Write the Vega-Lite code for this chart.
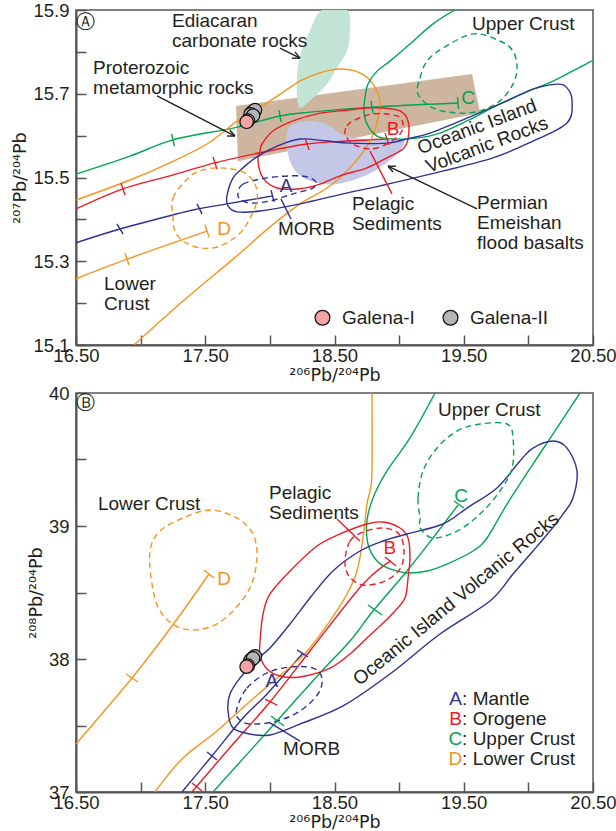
{
"$schema": "https://vega.github.io/schema/vega-lite/v6.json",
"background": "white",
"padding": {"left": 11, "top": 0, "right": 0, "bottom": 0},
"bounds": "flush",
"spacing": 48,
"config": {
 "font": "Liberation Sans",
 "view": {"stroke": "#555", "strokeWidth": 1.5},
 "axis": {"domainColor": "#555", "domainWidth": 2, "tickColor": "#555", "tickWidth": 1.5, "tickSize": -10, "labelFontSize": 18.5, "labelColor": "#231f20", "titleFontSize": 17.5, "titleFontWeight": "normal", "titleColor": "#231f20", "grid": false, "labelOverlap": false, "labelFlush": false, "labelFont": "Liberation Sans", "titleFont": "DejaVu Sans"},
 "axisX": {"labelPadding": 11, "titlePadding": 2},
 "axisY": {"labelPadding": 17, "titlePadding": 3},
 "text": {"font": "Liberation Sans", "fontSize": 19, "color": "#231f20"}
},
"resolve": {"scale": {"fill": "independent", "x": "independent", "y": "independent"}, "legend": {"fill": "independent"}},
"datasets": {
 "top_quad": [
  {"id":"proterozoic","x":17.738,"y":15.671},{"id":"proterozoic","x":19.564,"y":15.747},{"id":"proterozoic","x":19.626,"y":15.654},{"id":"proterozoic","x":17.753,"y":15.539}
 ],
 "top_blob": [
  {"id":"ediacaran","x":18.403,"y":15.9},{"id":"ediacaran","x":18.597,"y":15.9},{"id":"ediacaran","x":18.62,"y":15.85},{"id":"ediacaran","x":18.597,"y":15.802},{"id":"ediacaran","x":18.519,"y":15.762},{"id":"ediacaran","x":18.442,"y":15.723},{"id":"ediacaran","x":18.31,"y":15.683},{"id":"ediacaran","x":18.233,"y":15.666},{"id":"ediacaran","x":18.21,"y":15.695},{"id":"ediacaran","x":18.21,"y":15.742},{"id":"ediacaran","x":18.233,"y":15.79},{"id":"ediacaran","x":18.31,"y":15.85},
  {"id":"permian","x":18.14,"y":15.616},{"id":"permian","x":18.218,"y":15.63},{"id":"permian","x":18.349,"y":15.635},{"id":"permian","x":18.465,"y":15.623},{"id":"permian","x":18.581,"y":15.599},{"id":"permian","x":18.736,"y":15.592},{"id":"permian","x":18.929,"y":15.592},{"id":"permian","x":19.038,"y":15.59},{"id":"permian","x":19.007,"y":15.563},{"id":"permian","x":18.891,"y":15.532},{"id":"permian","x":18.736,"y":15.504},{"id":"permian","x":18.504,"y":15.484},{"id":"permian","x":18.31,"y":15.492},{"id":"permian","x":18.187,"y":15.52},{"id":"permian","x":18.133,"y":15.568}
 ],
 "top_open": [
  {"id":"g_upper","grp":"upper","x":16.5,"y":15.508},{"id":"g_upper","grp":"upper","x":16.918,"y":15.551},{"id":"g_upper","grp":"upper","x":17.25,"y":15.59},{"id":"g_upper","grp":"upper","x":17.715,"y":15.618},{"id":"g_upper","grp":"upper","x":18.078,"y":15.647},{"id":"g_upper","grp":"upper","x":18.31,"y":15.656},{"id":"g_upper","grp":"upper","x":18.79,"y":15.668},{"id":"g_upper","grp":"upper","x":19.456,"y":15.678},
  {"id":"g_orogene","grp":"orogene","x":16.5,"y":15.425},{"id":"g_orogene","grp":"orogene","x":16.864,"y":15.473},{"id":"g_orogene","grp":"orogene","x":17.227,"y":15.504},{"id":"g_orogene","grp":"orogene","x":17.575,"y":15.535},{"id":"g_orogene","grp":"orogene","x":17.924,"y":15.559},{"id":"g_orogene","grp":"orogene","x":18.287,"y":15.58},{"id":"g_orogene","grp":"orogene","x":18.597,"y":15.587},{"id":"g_orogene","grp":"orogene","x":18.906,"y":15.592},
  {"id":"g_mantle","grp":"mantle","x":16.5,"y":15.344},{"id":"g_mantle","grp":"mantle","x":16.84,"y":15.377},{"id":"g_mantle","grp":"mantle","x":17.305,"y":15.415},{"id":"g_mantle","grp":"mantle","x":17.444,"y":15.425},{"id":"g_mantle","grp":"mantle","x":17.668,"y":15.437},{"id":"g_mantle","grp":"mantle","x":18.024,"y":15.456},
  {"id":"g_lower","grp":"lower","x":16.5,"y":15.258},{"id":"g_lower","grp":"lower","x":16.895,"y":15.305},{"id":"g_lower","grp":"lower","x":17.514,"y":15.372},
  {"id":"f_lower","grp":"lower","x":16.5,"y":15.446},{"id":"f_lower","grp":"lower","x":16.918,"y":15.494},{"id":"f_lower","grp":"lower","x":17.204,"y":15.532},{"id":"f_lower","grp":"lower","x":17.514,"y":15.58},{"id":"f_lower","grp":"lower","x":17.769,"y":15.64},{"id":"f_lower","grp":"lower","x":17.978,"y":15.678},{"id":"f_lower","grp":"lower","x":18.233,"y":15.73},{"id":"f_lower","grp":"lower","x":18.388,"y":15.75},{"id":"f_lower","grp":"lower","x":18.543,"y":15.759},{"id":"f_lower","grp":"lower","x":18.697,"y":15.75},{"id":"f_lower","grp":"lower","x":18.798,"y":15.723},{"id":"f_lower","grp":"lower","x":18.852,"y":15.683},{"id":"f_lower","grp":"lower","x":18.837,"y":15.642},{"id":"f_lower","grp":"lower","x":18.775,"y":15.587},{"id":"f_lower","grp":"lower","x":18.62,"y":15.523},{"id":"f_lower","grp":"lower","x":18.442,"y":15.475},{"id":"f_lower","grp":"lower","x":18.233,"y":15.437},{"id":"f_lower","grp":"lower","x":18.001,"y":15.382},{"id":"f_lower","grp":"lower","x":17.715,"y":15.305},{"id":"f_lower","grp":"lower","x":17.328,"y":15.205},{"id":"f_lower","grp":"lower","x":16.949,"y":15.1},
  {"id":"f_upper","grp":"upper","x":19.432,"y":15.9},{"id":"f_upper","grp":"upper","x":19.262,"y":15.867},{"id":"f_upper","grp":"upper","x":19.084,"y":15.819},{"id":"f_upper","grp":"upper","x":18.929,"y":15.778},{"id":"f_upper","grp":"upper","x":18.829,"y":15.754},{"id":"f_upper","grp":"upper","x":18.759,"y":15.723},{"id":"f_upper","grp":"upper","x":18.736,"y":15.69},{"id":"f_upper","grp":"upper","x":18.728,"y":15.659},{"id":"f_upper","grp":"upper","x":18.751,"y":15.628},{"id":"f_upper","grp":"upper","x":18.829,"y":15.599},{"id":"f_upper","grp":"upper","x":18.953,"y":15.592},{"id":"f_upper","grp":"upper","x":19.138,"y":15.594},{"id":"f_upper","grp":"upper","x":19.316,"y":15.606},{"id":"f_upper","grp":"upper","x":19.525,"y":15.635},{"id":"f_upper","grp":"upper","x":19.78,"y":15.676},{"id":"f_upper","grp":"upper","x":20.036,"y":15.711},{"id":"f_upper","grp":"upper","x":20.191,"y":15.73},{"id":"f_upper","grp":"upper","x":20.477,"y":15.776},{"id":"f_upper","grp":"upper","x":20.5,"y":15.779}
 ],
 "top_loop": [
  {"id":"pelagic","grp":"orogene","x":17.924,"y":15.563},{"id":"pelagic","grp":"orogene","x":17.908,"y":15.539},{"id":"pelagic","grp":"orogene","x":17.947,"y":15.499},{"id":"pelagic","grp":"orogene","x":18.055,"y":15.475},{"id":"pelagic","grp":"orogene","x":18.233,"y":15.473},{"id":"pelagic","grp":"orogene","x":18.388,"y":15.484},{"id":"pelagic","grp":"orogene","x":18.543,"y":15.504},{"id":"pelagic","grp":"orogene","x":18.751,"y":15.523},{"id":"pelagic","grp":"orogene","x":18.906,"y":15.547},{"id":"pelagic","grp":"orogene","x":19.03,"y":15.568},{"id":"pelagic","grp":"orogene","x":19.069,"y":15.592},{"id":"pelagic","grp":"orogene","x":19.069,"y":15.635},{"id":"pelagic","grp":"orogene","x":19.007,"y":15.659},{"id":"pelagic","grp":"orogene","x":18.875,"y":15.666},{"id":"pelagic","grp":"orogene","x":18.751,"y":15.666},{"id":"pelagic","grp":"orogene","x":18.543,"y":15.659},{"id":"pelagic","grp":"orogene","x":18.365,"y":15.652},{"id":"pelagic","grp":"orogene","x":18.179,"y":15.635},{"id":"pelagic","grp":"orogene","x":18.024,"y":15.611},{"id":"pelagic","grp":"orogene","x":17.939,"y":15.58},
  {"id":"oib","grp":"mantle","x":17.668,"y":15.456},{"id":"oib","grp":"mantle","x":17.715,"y":15.499},{"id":"oib","grp":"mantle","x":17.792,"y":15.523},{"id":"oib","grp":"mantle","x":17.908,"y":15.551},{"id":"oib","grp":"mantle","x":18.055,"y":15.575},{"id":"oib","grp":"mantle","x":18.233,"y":15.592},{"id":"oib","grp":"mantle","x":18.442,"y":15.587},{"id":"oib","grp":"mantle","x":18.62,"y":15.582},{"id":"oib","grp":"mantle","x":18.906,"y":15.582},{"id":"oib","grp":"mantle","x":19.084,"y":15.594},{"id":"oib","grp":"mantle","x":19.239,"y":15.606},{"id":"oib","grp":"mantle","x":19.525,"y":15.642},{"id":"oib","grp":"mantle","x":19.835,"y":15.683},{"id":"oib","grp":"mantle","x":20.036,"y":15.711},{"id":"oib","grp":"mantle","x":20.222,"y":15.723},{"id":"oib","grp":"mantle","x":20.299,"y":15.714},{"id":"oib","grp":"mantle","x":20.338,"y":15.683},{"id":"oib","grp":"mantle","x":20.299,"y":15.63},{"id":"oib","grp":"mantle","x":20.036,"y":15.587},{"id":"oib","grp":"mantle","x":19.726,"y":15.547},{"id":"oib","grp":"mantle","x":19.239,"y":15.508},{"id":"oib","grp":"mantle","x":18.852,"y":15.48},{"id":"oib","grp":"mantle","x":18.566,"y":15.461},{"id":"oib","grp":"mantle","x":18.233,"y":15.437},{"id":"oib","grp":"mantle","x":17.924,"y":15.42},{"id":"oib","grp":"mantle","x":17.746,"y":15.418},{"id":"oib","grp":"mantle","x":17.676,"y":15.432}
 ],
 "top_dash": [
  {"id":"A","grp":"mantle","x":17.753,"y":15.461},{"id":"A","grp":"mantle","x":17.792,"y":15.484},{"id":"A","grp":"mantle","x":17.978,"y":15.499},{"id":"A","grp":"mantle","x":18.233,"y":15.504},{"id":"A","grp":"mantle","x":18.349,"y":15.492},{"id":"A","grp":"mantle","x":18.334,"y":15.475},{"id":"A","grp":"mantle","x":18.179,"y":15.461},{"id":"A","grp":"mantle","x":18.001,"y":15.444},{"id":"A","grp":"mantle","x":17.846,"y":15.439},{"id":"A","grp":"mantle","x":17.769,"y":15.449},
  {"id":"B","grp":"orogene","x":18.581,"y":15.604},{"id":"B","grp":"orogene","x":18.597,"y":15.623},{"id":"B","grp":"orogene","x":18.643,"y":15.635},{"id":"B","grp":"orogene","x":18.798,"y":15.652},{"id":"B","grp":"orogene","x":18.984,"y":15.647},{"id":"B","grp":"orogene","x":19.03,"y":15.628},{"id":"B","grp":"orogene","x":19.007,"y":15.604},{"id":"B","grp":"orogene","x":18.906,"y":15.58},{"id":"B","grp":"orogene","x":18.775,"y":15.568},{"id":"B","grp":"orogene","x":18.643,"y":15.58},
  {"id":"C","grp":"upper","x":19.146,"y":15.699},{"id":"C","grp":"upper","x":19.162,"y":15.738},{"id":"C","grp":"upper","x":19.216,"y":15.778},{"id":"C","grp":"upper","x":19.339,"y":15.809},{"id":"C","grp":"upper","x":19.572,"y":15.843},{"id":"C","grp":"upper","x":19.78,"y":15.826},{"id":"C","grp":"upper","x":19.881,"y":15.802},{"id":"C","grp":"upper","x":19.912,"y":15.762},{"id":"C","grp":"upper","x":19.881,"y":15.723},{"id":"C","grp":"upper","x":19.78,"y":15.683},{"id":"C","grp":"upper","x":19.626,"y":15.659},{"id":"C","grp":"upper","x":19.448,"y":15.654},{"id":"C","grp":"upper","x":19.262,"y":15.666},
  {"id":"D","grp":"lower","x":17.25,"y":15.403},{"id":"D","grp":"lower","x":17.25,"y":15.451},{"id":"D","grp":"lower","x":17.359,"y":15.496},{"id":"D","grp":"lower","x":17.459,"y":15.516},{"id":"D","grp":"lower","x":17.614,"y":15.523},{"id":"D","grp":"lower","x":17.792,"y":15.513},{"id":"D","grp":"lower","x":17.885,"y":15.484},{"id":"D","grp":"lower","x":17.9,"y":15.444},{"id":"D","grp":"lower","x":17.846,"y":15.403},{"id":"D","grp":"lower","x":17.769,"y":15.367},{"id":"D","grp":"lower","x":17.614,"y":15.336},{"id":"D","grp":"lower","x":17.459,"y":15.332},{"id":"D","grp":"lower","x":17.328,"y":15.348},{"id":"D","grp":"lower","x":17.266,"y":15.372}
 ],
 "top_seg": [
  {"grp":"upper","x":17.239,"y":15.604,"x2":17.262,"y2":15.575},{"grp":"upper","x":18.071,"y":15.661,"x2":18.086,"y2":15.633},{"grp":"upper","x":18.782,"y":15.683,"x2":18.798,"y2":15.654},{"grp":"upper","x":19.452,"y":15.692,"x2":19.459,"y2":15.664},
  {"grp":"orogene","x":16.848,"y":15.487,"x2":16.879,"y2":15.458},{"grp":"orogene","x":17.56,"y":15.549,"x2":17.591,"y2":15.52},{"grp":"orogene","x":18.272,"y":15.594,"x2":18.303,"y2":15.566},{"grp":"orogene","x":18.891,"y":15.606,"x2":18.922,"y2":15.578},
  {"grp":"mantle","x":16.817,"y":15.389,"x2":16.864,"y2":15.365},{"grp":"mantle","x":17.436,"y":15.437,"x2":17.475,"y2":15.413},{"grp":"mantle","x":18.009,"y":15.47,"x2":18.032,"y2":15.442},
  {"grp":"lower","x":16.879,"y":15.32,"x2":16.91,"y2":15.291},{"grp":"lower","x":17.498,"y":15.387,"x2":17.529,"y2":15.358},
  {"grp":"mantle","x":18.086,"y":15.449,"x2":18.163,"y2":15.401},
  {"grp":"orogene","x":18.775,"y":15.563,"x2":18.945,"y2":15.461},
  {"grp":"black","x":18.078,"y":15.809,"x2":18.233,"y2":15.785},{"grp":"black","x":18.233,"y":15.785,"x2":18.194,"y2":15.8},{"grp":"black","x":18.233,"y":15.785,"x2":18.171,"y2":15.785},
  {"grp":"black","x":17.127,"y":15.695,"x2":17.73,"y2":15.599},{"grp":"black","x":17.73,"y":15.599,"x2":17.691,"y2":15.613},{"grp":"black","x":17.73,"y":15.599,"x2":17.668,"y2":15.599},
  {"grp":"black","x":19.603,"y":15.425,"x2":18.914,"y2":15.527},{"grp":"black","x":18.914,"y":15.527,"x2":18.953,"y2":15.513},{"grp":"black","x":18.914,"y":15.527,"x2":18.976,"y2":15.527}
 ],
 "top_text": [
  {"text":"Ediacaran","x":17.243,"y":15.874},{"text":"carbonate rocks","x":17.243,"y":15.826},
  {"text":"Proterozoic","x":16.632,"y":15.762},{"text":"metamorphic rocks","x":16.632,"y":15.714},
  {"text":"Upper Crust","x":19.564,"y":15.867},
  {"text":"Permian","x":19.603,"y":15.439},{"text":"Emeishan","x":19.603,"y":15.391},{"text":"flood basalts","x":19.603,"y":15.344},
  {"text":"Pelagic","x":18.635,"y":15.437},{"text":"Sediments","x":18.635,"y":15.389},
  {"text":"MORB","x":18.063,"y":15.377},
  {"text":"Lower","x":16.717,"y":15.246},{"text":"Crust","x":16.717,"y":15.198}
 ],
 "top_rot": [
  {"text":"Oceanic Island","x":19.603,"y":15.621},{"text":"Volcanic Rocks","x":19.68,"y":15.578}
 ],
 "top_letter": [
  {"text":"A","grp":"mantle","x":18.125,"y":15.48},{"text":"B","grp":"orogene","x":18.953,"y":15.616},{"text":"C","grp":"upper","x":19.533,"y":15.69},{"text":"D","grp":"lower","x":17.645,"y":15.377},
  {"text":"Ⓐ","grp":"black","x":16.577,"y":15.871}
 ],
 "galena": [
  {"type":"Galena-II","pb206":17.86,"pb207":15.655,"pb208":38.0},{"type":"Galena-II","pb206":17.875,"pb207":15.658,"pb208":38.012},{"type":"Galena-II","pb206":17.885,"pb207":15.661,"pb208":38.02},{"type":"Galena-II","pb206":17.85,"pb207":15.651,"pb208":37.99},{"type":"Galena-II","pb206":17.87,"pb207":15.648,"pb208":38.005},
  {"type":"Galena-I","pb206":17.83,"pb207":15.636,"pb208":37.95},{"type":"Galena-I","pb206":17.82,"pb207":15.633,"pb208":37.942}
 ],
 "bot_open": [
  {"id":"g_mantle","grp":"mantle","x":17.32,"y":37},{"id":"g_mantle","grp":"mantle","x":17.552,"y":37.271},{"id":"g_mantle","grp":"mantle","x":17.792,"y":37.556},{"id":"g_mantle","grp":"mantle","x":17.978,"y":37.737},{"id":"g_mantle","grp":"mantle","x":18.256,"y":38.045},
  {"id":"g_orogene","grp":"orogene","x":17.397,"y":37},{"id":"g_orogene","grp":"orogene","x":17.715,"y":37.361},{"id":"g_orogene","grp":"orogene","x":18.001,"y":37.677},{"id":"g_orogene","grp":"orogene","x":18.31,"y":38.06},{"id":"g_orogene","grp":"orogene","x":18.721,"y":38.564},{"id":"g_orogene","grp":"orogene","x":18.937,"y":38.737},
  {"id":"g_upper","grp":"upper","x":17.56,"y":37},{"id":"g_upper","grp":"upper","x":18.055,"y":37.534},{"id":"g_upper","grp":"upper","x":18.388,"y":37.895},{"id":"g_upper","grp":"upper","x":18.62,"y":38.135},{"id":"g_upper","grp":"upper","x":18.798,"y":38.361},{"id":"g_upper","grp":"upper","x":19.061,"y":38.662},{"id":"g_upper","grp":"upper","x":19.262,"y":38.91},{"id":"g_upper","grp":"upper","x":19.456,"y":39.158},
  {"id":"g_lower","grp":"lower","x":16.5,"y":37.361},{"id":"g_lower","grp":"lower","x":16.933,"y":37.857},{"id":"g_lower","grp":"lower","x":17.243,"y":38.248},{"id":"g_lower","grp":"lower","x":17.529,"y":38.639},
  {"id":"f_lower","grp":"lower","x":18.79,"y":40},{"id":"f_lower","grp":"lower","x":18.79,"y":39.414},{"id":"f_lower","grp":"lower","x":18.775,"y":39.263},{"id":"f_lower","grp":"lower","x":18.751,"y":39.165},{"id":"f_lower","grp":"lower","x":18.721,"y":38.91},{"id":"f_lower","grp":"lower","x":18.674,"y":38.662},{"id":"f_lower","grp":"lower","x":18.597,"y":38.489},{"id":"f_lower","grp":"lower","x":18.465,"y":38.286},{"id":"f_lower","grp":"lower","x":18.31,"y":38.083},{"id":"f_lower","grp":"lower","x":18.21,"y":37.985},{"id":"f_lower","grp":"lower","x":18.001,"y":37.812},{"id":"f_lower","grp":"lower","x":17.823,"y":37.662},{"id":"f_lower","grp":"lower","x":17.591,"y":37.459},{"id":"f_lower","grp":"lower","x":17.328,"y":37.256},{"id":"f_lower","grp":"lower","x":17.127,"y":37.023},{"id":"f_lower","grp":"lower","x":17.111,"y":37},
  {"id":"f_upper","grp":"upper","x":19.278,"y":40},{"id":"f_upper","grp":"upper","x":19.084,"y":39.662},{"id":"f_upper","grp":"upper","x":18.906,"y":39.414},{"id":"f_upper","grp":"upper","x":18.798,"y":39.211},{"id":"f_upper","grp":"upper","x":18.751,"y":39.038},{"id":"f_upper","grp":"upper","x":18.759,"y":38.865},{"id":"f_upper","grp":"upper","x":18.829,"y":38.737},{"id":"f_upper","grp":"upper","x":18.929,"y":38.677},{"id":"f_upper","grp":"upper","x":19.061,"y":38.647},{"id":"f_upper","grp":"upper","x":19.216,"y":38.662},{"id":"f_upper","grp":"upper","x":19.37,"y":38.714},{"id":"f_upper","grp":"upper","x":19.572,"y":38.812},{"id":"f_upper","grp":"upper","x":19.68,"y":38.91},{"id":"f_upper","grp":"upper","x":19.835,"y":39.165},{"id":"f_upper","grp":"upper","x":20.036,"y":39.466},{"id":"f_upper","grp":"upper","x":20.191,"y":39.692},{"id":"f_upper","grp":"upper","x":20.399,"y":40}
 ],
 "bot_loop": [
  {"id":"pelagic","grp":"orogene","x":17.924,"y":38.135},{"id":"pelagic","grp":"orogene","x":17.947,"y":38.338},{"id":"pelagic","grp":"orogene","x":18.001,"y":38.489},{"id":"pelagic","grp":"orogene","x":18.156,"y":38.662},{"id":"pelagic","grp":"orogene","x":18.365,"y":38.85},{"id":"pelagic","grp":"orogene","x":18.543,"y":38.94},{"id":"pelagic","grp":"orogene","x":18.751,"y":39.015},{"id":"pelagic","grp":"orogene","x":18.875,"y":39.03},{"id":"pelagic","grp":"orogene","x":19.007,"y":38.985},{"id":"pelagic","grp":"orogene","x":19.069,"y":38.91},{"id":"pelagic","grp":"orogene","x":19.084,"y":38.759},{"id":"pelagic","grp":"orogene","x":19.069,"y":38.609},{"id":"pelagic","grp":"orogene","x":19.045,"y":38.459},{"id":"pelagic","grp":"orogene","x":18.953,"y":38.346},{"id":"pelagic","grp":"orogene","x":18.852,"y":38.248},{"id":"pelagic","grp":"orogene","x":18.751,"y":38.158},{"id":"pelagic","grp":"orogene","x":18.62,"y":38.038},{"id":"pelagic","grp":"orogene","x":18.465,"y":37.932},{"id":"pelagic","grp":"orogene","x":18.233,"y":37.865},{"id":"pelagic","grp":"orogene","x":18.078,"y":37.872},{"id":"pelagic","grp":"orogene","x":17.978,"y":37.925},{"id":"pelagic","grp":"orogene","x":17.924,"y":38.023},
  {"id":"oib","grp":"mantle","x":17.676,"y":37.609},{"id":"oib","grp":"mantle","x":17.691,"y":37.737},{"id":"oib","grp":"mantle","x":17.769,"y":37.857},{"id":"oib","grp":"mantle","x":17.885,"y":37.985},{"id":"oib","grp":"mantle","x":18.001,"y":38.083},{"id":"oib","grp":"mantle","x":18.156,"y":38.263},{"id":"oib","grp":"mantle","x":18.31,"y":38.459},{"id":"oib","grp":"mantle","x":18.488,"y":38.662},{"id":"oib","grp":"mantle","x":18.697,"y":38.812},{"id":"oib","grp":"mantle","x":18.875,"y":38.887},{"id":"oib","grp":"mantle","x":19.061,"y":38.94},{"id":"oib","grp":"mantle","x":19.339,"y":39.015},{"id":"oib","grp":"mantle","x":19.525,"y":39.135},{"id":"oib","grp":"mantle","x":19.757,"y":39.286},{"id":"oib","grp":"mantle","x":19.935,"y":39.489},{"id":"oib","grp":"mantle","x":20.036,"y":39.586},{"id":"oib","grp":"mantle","x":20.191,"y":39.639},{"id":"oib","grp":"mantle","x":20.299,"y":39.586},{"id":"oib","grp":"mantle","x":20.376,"y":39.414},{"id":"oib","grp":"mantle","x":20.345,"y":39.211},{"id":"oib","grp":"mantle","x":20.268,"y":39.09},{"id":"oib","grp":"mantle","x":20.167,"y":38.962},{"id":"oib","grp":"mantle","x":20.036,"y":38.812},{"id":"oib","grp":"mantle","x":19.881,"y":38.639},{"id":"oib","grp":"mantle","x":19.703,"y":38.436},{"id":"oib","grp":"mantle","x":19.316,"y":38.188},{"id":"oib","grp":"mantle","x":18.929,"y":37.887},{"id":"oib","grp":"mantle","x":18.566,"y":37.647},{"id":"oib","grp":"mantle","x":18.233,"y":37.511},{"id":"oib","grp":"mantle","x":18.001,"y":37.429},{"id":"oib","grp":"mantle","x":17.846,"y":37.436},{"id":"oib","grp":"mantle","x":17.715,"y":37.481}
 ],
 "bot_dash": [
  {"id":"A","grp":"mantle","x":17.746,"y":37.632},{"id":"A","grp":"mantle","x":17.823,"y":37.782},{"id":"A","grp":"mantle","x":17.978,"y":37.895},{"id":"A","grp":"mantle","x":18.156,"y":37.94},{"id":"A","grp":"mantle","x":18.334,"y":37.932},{"id":"A","grp":"mantle","x":18.403,"y":37.857},{"id":"A","grp":"mantle","x":18.372,"y":37.737},{"id":"A","grp":"mantle","x":18.233,"y":37.609},{"id":"A","grp":"mantle","x":18.055,"y":37.534},{"id":"A","grp":"mantle","x":17.846,"y":37.511},{"id":"A","grp":"mantle","x":17.753,"y":37.556},
  {"id":"B","grp":"orogene","x":18.581,"y":38.737},{"id":"B","grp":"orogene","x":18.62,"y":38.887},{"id":"B","grp":"orogene","x":18.721,"y":38.955},{"id":"B","grp":"orogene","x":18.875,"y":38.985},{"id":"B","grp":"orogene","x":18.999,"y":38.94},{"id":"B","grp":"orogene","x":19.038,"y":38.812},{"id":"B","grp":"orogene","x":19.007,"y":38.677},{"id":"B","grp":"orogene","x":18.891,"y":38.586},{"id":"B","grp":"orogene","x":18.721,"y":38.556},{"id":"B","grp":"orogene","x":18.612,"y":38.624},
  {"id":"C","grp":"upper","x":19.162,"y":39.06},{"id":"C","grp":"upper","x":19.146,"y":39.211},{"id":"C","grp":"upper","x":19.185,"y":39.414},{"id":"C","grp":"upper","x":19.293,"y":39.586},{"id":"C","grp":"upper","x":19.448,"y":39.714},{"id":"C","grp":"upper","x":19.626,"y":39.767},{"id":"C","grp":"upper","x":19.835,"y":39.767},{"id":"C","grp":"upper","x":19.881,"y":39.662},{"id":"C","grp":"upper","x":19.874,"y":39.436},{"id":"C","grp":"upper","x":19.78,"y":39.263},{"id":"C","grp":"upper","x":19.626,"y":39.09},{"id":"C","grp":"upper","x":19.448,"y":38.962},{"id":"C","grp":"upper","x":19.262,"y":38.91},{"id":"C","grp":"upper","x":19.162,"y":38.985},
  {"id":"D","grp":"lower","x":17.073,"y":38.812},{"id":"D","grp":"lower","x":17.15,"y":38.962},{"id":"D","grp":"lower","x":17.328,"y":39.06},{"id":"D","grp":"lower","x":17.537,"y":39.12},{"id":"D","grp":"lower","x":17.746,"y":39.06},{"id":"D","grp":"lower","x":17.869,"y":38.94},{"id":"D","grp":"lower","x":17.9,"y":38.759},{"id":"D","grp":"lower","x":17.846,"y":38.534},{"id":"D","grp":"lower","x":17.691,"y":38.338},{"id":"D","grp":"lower","x":17.514,"y":38.233},{"id":"D","grp":"lower","x":17.305,"y":38.233},{"id":"D","grp":"lower","x":17.15,"y":38.361},{"id":"D","grp":"lower","x":17.088,"y":38.564}
 ],
 "bot_seg": [
  {"grp":"mantle","x":17.514,"y":37.301,"x2":17.591,"y2":37.241},{"grp":"mantle","x":18.21,"y":38.068,"x2":18.295,"y2":38.015},
  {"grp":"orogene","x":17.397,"y":37.068,"x2":17.475,"y2":37.008},{"grp":"orogene","x":17.962,"y":37.699,"x2":18.055,"y2":37.654},{"grp":"orogene","x":18.891,"y":38.767,"x2":18.976,"y2":38.699},
  {"grp":"upper","x":18.009,"y":37.571,"x2":18.109,"y2":37.496},{"grp":"upper","x":18.759,"y":38.406,"x2":18.868,"y2":38.331},{"grp":"upper","x":19.425,"y":39.188,"x2":19.502,"y2":39.135},
  {"grp":"lower","x":16.887,"y":37.887,"x2":16.98,"y2":37.827},{"grp":"lower","x":17.49,"y":38.669,"x2":17.568,"y2":38.609},
  {"grp":"orogene","x":18.519,"y":39.053,"x2":18.697,"y2":38.887},
  {"grp":"mantle","x":18.001,"y":37.519,"x2":18.233,"y2":37.383}
 ],
 "bot_text": [
  {"text":"Upper Crust","x":19.301,"y":39.872},{"text":"Lower Crust","x":16.67,"y":39.165},
  {"text":"Pelagic","x":17.993,"y":39.248},{"text":"Sediments","x":17.993,"y":39.098},
  {"text":"MORB","x":18.102,"y":37.323},
  {"text":": Mantle","x":19.487,"y":37.699},{"text":": Orogene","x":19.487,"y":37.549},{"text":": Upper Crust","x":19.487,"y":37.398},{"text":": Lower Crust","x":19.487,"y":37.248}
 ],
 "bot_rot": [
  {"text":"Oceanic Island Volcanic Rocks","x":19.44,"y":38.451}
 ],
 "bot_letter": [
  {"text":"A","grp":"mantle","x":18.016,"y":37.835},{"text":"B","grp":"orogene","x":18.929,"y":38.835},{"text":"C","grp":"upper","x":19.479,"y":39.226},{"text":"D","grp":"lower","x":17.645,"y":38.602},
  {"text":"A","grp":"mantle","x":19.436,"y":37.699},{"text":"B","grp":"orogene","x":19.436,"y":37.549},{"text":"C","grp":"upper","x":19.436,"y":37.398},{"text":"D","grp":"lower","x":19.436,"y":37.248},
  {"text":"Ⓑ","grp":"black","x":16.577,"y":39.925}
 ]
},
"vconcat": [
 {
  "width": 517, "height": 335,
  "resolve": {"scale": {"fill": "independent"}},
  "encoding": {
   "x": {"field": "x", "type": "quantitative", "scale": {"domain": [16.5, 20.5], "nice": false, "zero": false}, "axis": {"title": "²⁰⁶Pb/²⁰⁴Pb", "values": [16.5, 17, 17.5, 18, 18.5, 19, 19.5, 20, 20.5], "labelExpr": "round(datum.value*2)%2==1 ? format(datum.value,'.2f') : ''"}},
   "y": {"field": "y", "type": "quantitative", "scale": {"domain": [15.1, 15.9], "nice": false, "zero": false}, "axis": {"title": "²⁰⁷Pb/²⁰⁴Pb", "values": [15.1, 15.2, 15.3, 15.4, 15.5, 15.6, 15.7, 15.8, 15.9], "labelExpr": "round(datum.value*10)%2==1 ? format(datum.value,'.1f') : ''"}}
  },
  "layer": [
   {"data": {"name": "top_quad"}, "mark": {"type": "line", "strokeOpacity": 0, "clip": true},
    "encoding": {"fill": {"field": "id", "type": "nominal", "scale": {"domain": ["proterozoic"], "range": ["#cdb5a0"]}, "legend": null}, "detail": {"field": "id"}, "order": {"value": null}}},
   {"data": {"name": "top_blob"}, "mark": {"type": "line", "interpolate": "cardinal-closed", "strokeOpacity": 0, "clip": true},
    "encoding": {"fill": {"field": "id", "type": "nominal", "scale": {"domain": ["ediacaran", "permian"], "range": ["#c1e4d5", "#c5c7e7"]}, "legend": null}, "detail": {"field": "id"}, "order": {"value": null}}},
   {"data": {"name": "top_open"}, "mark": {"type": "line", "interpolate": "cardinal", "strokeWidth": 1.4, "clip": true},
    "encoding": {"color": {"field": "grp", "type": "nominal", "scale": {"domain": ["mantle", "orogene", "upper", "lower", "black"], "range": ["#2e3192", "#ed1c24", "#00a651", "#f7941d", "#231f20"]}, "legend": null}, "detail": {"field": "id"}, "order": {"value": null}}},
   {"data": {"name": "top_loop"}, "mark": {"type": "line", "interpolate": "cardinal-closed", "strokeWidth": 1.4, "clip": true},
    "encoding": {"color": {"field": "grp", "type": "nominal", "scale": {"domain": ["mantle", "orogene", "upper", "lower", "black"], "range": ["#2e3192", "#ed1c24", "#00a651", "#f7941d", "#231f20"]}, "legend": null}, "detail": {"field": "id"}, "order": {"value": null}}},
   {"data": {"name": "top_dash"}, "mark": {"type": "line", "interpolate": "cardinal-closed", "strokeWidth": 1.4, "strokeDash": [6, 4], "clip": true},
    "encoding": {"color": {"field": "grp", "type": "nominal", "scale": {"domain": ["mantle", "orogene", "upper", "lower", "black"], "range": ["#2e3192", "#ed1c24", "#00a651", "#f7941d", "#231f20"]}, "legend": null}, "detail": {"field": "id"}, "order": {"value": null}}},
   {"data": {"name": "top_seg"}, "mark": {"type": "rule", "strokeWidth": 1.4},
    "encoding": {"x2": {"field": "x2"}, "y2": {"field": "y2"}, "color": {"field": "grp", "type": "nominal", "scale": {"domain": ["mantle", "orogene", "upper", "lower", "black"], "range": ["#2e3192", "#ed1c24", "#00a651", "#f7941d", "#231f20"]}, "legend": null}}},
   {"data": {"name": "galena"}, "mark": {"type": "point", "shape": "circle", "filled": true, "size": 180, "opacity": 1, "stroke": "#111", "strokeWidth": 1.2},
    "encoding": {
     "x": {"field": "pb206", "type": "quantitative", "scale": {"domain": [16.5, 20.5], "nice": false, "zero": false}, "axis": {"title": "²⁰⁶Pb/²⁰⁴Pb", "values": [16.5, 17, 17.5, 18, 18.5, 19, 19.5, 20, 20.5], "labelExpr": "round(datum.value*2)%2==1 ? format(datum.value,'.2f') : ''"}},
     "y": {"field": "pb207", "type": "quantitative", "scale": {"domain": [15.1, 15.9], "nice": false, "zero": false}, "axis": {"title": "²⁰⁷Pb/²⁰⁴Pb", "values": [15.1, 15.2, 15.3, 15.4, 15.5, 15.6, 15.7, 15.8, 15.9], "labelExpr": "round(datum.value*10)%2==1 ? format(datum.value,'.1f') : ''"}},
     "fill": {"field": "type", "type": "nominal", "scale": {"domain": ["Galena-I", "Galena-II"], "range": ["#f4a3a6", "#b5b5b5"]},
      "legend": {"orient": "none", "legendX": 237, "legendY": 298, "direction": "horizontal", "title": null, "symbolSize": 220, "symbolType": "circle", "symbolStrokeColor": "#111", "symbolStrokeWidth": 1.2, "symbolOpacity": 1, "labelFontSize": 19, "labelFont": "Liberation Sans", "labelColor": "#231f20", "labelOffset": 10, "columnPadding": 25, "padding": 0}},
     "order": {"field": "type", "sort": "descending"}
    }},
   {"data": {"name": "top_text"}, "mark": {"type": "text", "align": "left", "baseline": "middle", "fontSize": 19, "color": "#231f20"},
    "encoding": {"text": {"field": "text"}}},
   {"data": {"name": "top_rot"}, "mark": {"type": "text", "align": "center", "baseline": "middle", "fontSize": 19, "angle": -20.5, "color": "#231f20"},
    "encoding": {"text": {"field": "text"}}},
   {"data": {"name": "top_letter"}, "mark": {"type": "text", "align": "center", "baseline": "middle", "fontSize": 19},
    "encoding": {"text": {"field": "text"}, "color": {"field": "grp", "type": "nominal", "scale": {"domain": ["mantle", "orogene", "upper", "lower", "black"], "range": ["#2e3192", "#ed1c24", "#00a651", "#f7941d", "#231f20"]}, "legend": null}}}
  ]
 },
 {
  "width": 517, "height": 399,
  "encoding": {
   "x": {"field": "x", "type": "quantitative", "scale": {"domain": [16.5, 20.5], "nice": false, "zero": false}, "axis": {"title": "²⁰⁶Pb/²⁰⁴Pb", "values": [16.5, 17, 17.5, 18, 18.5, 19, 19.5, 20, 20.5], "labelExpr": "round(datum.value*2)%2==1 ? format(datum.value,'.2f') : ''"}},
   "y": {"field": "y", "type": "quantitative", "scale": {"domain": [37, 40], "nice": false, "zero": false}, "axis": {"title": "²⁰⁸Pb/²⁰⁴Pb", "values": [37, 37.5, 38, 38.5, 39, 39.5, 40], "labelExpr": "datum.value%1==0 ? format(datum.value,'d') : ''"}}
  },
  "layer": [
   {"data": {"name": "bot_open"}, "mark": {"type": "line", "interpolate": "cardinal", "strokeWidth": 1.4, "clip": true},
    "encoding": {"color": {"field": "grp", "type": "nominal", "scale": {"domain": ["mantle", "orogene", "upper", "lower", "black"], "range": ["#2e3192", "#ed1c24", "#00a651", "#f7941d", "#231f20"]}, "legend": null}, "detail": {"field": "id"}, "order": {"value": null}}},
   {"data": {"name": "bot_loop"}, "mark": {"type": "line", "interpolate": "cardinal-closed", "strokeWidth": 1.4, "clip": true},
    "encoding": {"color": {"field": "grp", "type": "nominal", "scale": {"domain": ["mantle", "orogene", "upper", "lower", "black"], "range": ["#2e3192", "#ed1c24", "#00a651", "#f7941d", "#231f20"]}, "legend": null}, "detail": {"field": "id"}, "order": {"value": null}}},
   {"data": {"name": "bot_dash"}, "mark": {"type": "line", "interpolate": "cardinal-closed", "strokeWidth": 1.4, "strokeDash": [6, 4], "clip": true},
    "encoding": {"color": {"field": "grp", "type": "nominal", "scale": {"domain": ["mantle", "orogene", "upper", "lower", "black"], "range": ["#2e3192", "#ed1c24", "#00a651", "#f7941d", "#231f20"]}, "legend": null}, "detail": {"field": "id"}, "order": {"value": null}}},
   {"data": {"name": "bot_seg"}, "mark": {"type": "rule", "strokeWidth": 1.4},
    "encoding": {"x2": {"field": "x2"}, "y2": {"field": "y2"}, "color": {"field": "grp", "type": "nominal", "scale": {"domain": ["mantle", "orogene", "upper", "lower", "black"], "range": ["#2e3192", "#ed1c24", "#00a651", "#f7941d", "#231f20"]}, "legend": null}}},
   {"data": {"name": "galena"}, "mark": {"type": "point", "shape": "circle", "filled": true, "size": 180, "opacity": 1, "stroke": "#111", "strokeWidth": 1.2},
    "encoding": {
     "x": {"field": "pb206", "type": "quantitative", "scale": {"domain": [16.5, 20.5], "nice": false, "zero": false}, "axis": {"title": "²⁰⁶Pb/²⁰⁴Pb", "values": [16.5, 17, 17.5, 18, 18.5, 19, 19.5, 20, 20.5], "labelExpr": "round(datum.value*2)%2==1 ? format(datum.value,'.2f') : ''"}},
     "y": {"field": "pb208", "type": "quantitative", "scale": {"domain": [37, 40], "nice": false, "zero": false}, "axis": {"title": "²⁰⁸Pb/²⁰⁴Pb", "values": [37, 37.5, 38, 38.5, 39, 39.5, 40], "labelExpr": "datum.value%1==0 ? format(datum.value,'d') : ''"}},
     "fill": {"field": "type", "type": "nominal", "scale": {"domain": ["Galena-I", "Galena-II"], "range": ["#f4a3a6", "#b5b5b5"]}, "legend": null},
     "order": {"field": "type", "sort": "descending"}
    }},
   {"data": {"name": "bot_text"}, "mark": {"type": "text", "align": "left", "baseline": "middle", "fontSize": 19, "color": "#231f20"},
    "encoding": {"text": {"field": "text"}}},
   {"data": {"name": "bot_rot"}, "mark": {"type": "text", "align": "center", "baseline": "middle", "fontSize": 19, "angle": -39.5, "color": "#231f20"},
    "encoding": {"text": {"field": "text"}}},
   {"data": {"name": "bot_letter"}, "mark": {"type": "text", "align": "center", "baseline": "middle", "fontSize": 19},
    "encoding": {"text": {"field": "text"}, "color": {"field": "grp", "type": "nominal", "scale": {"domain": ["mantle", "orogene", "upper", "lower", "black"], "range": ["#2e3192", "#ed1c24", "#00a651", "#f7941d", "#231f20"]}, "legend": null}}}
  ]
 }
]
}
